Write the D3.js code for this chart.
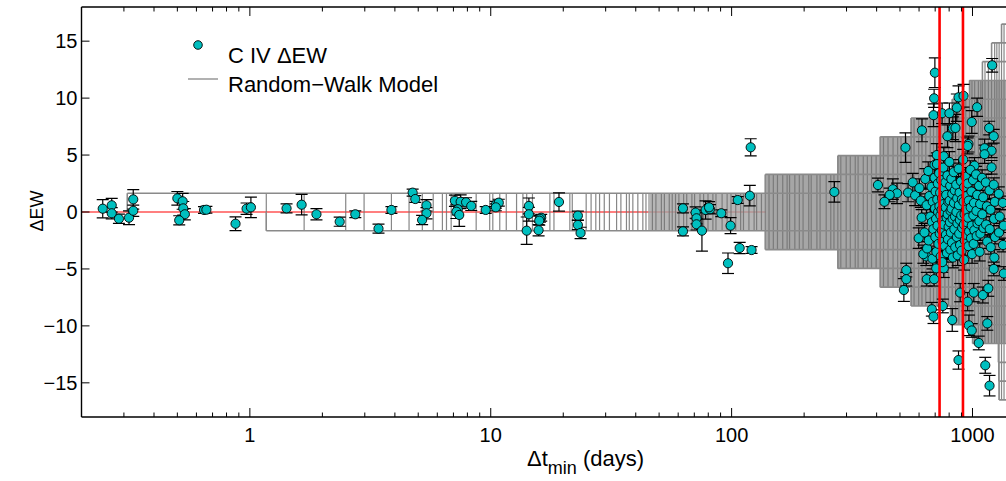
<!DOCTYPE html>
<html>
<head>
<meta charset="utf-8">
<script src="https://cdn.jsdelivr.net/npm/d3@7"></script>
<style>
body{margin:0;background:#fff}
svg{display:block;font-family:"Liberation Sans",Arial,sans-serif}
</style>
</head>
<body>
<svg id="chart" width="1006" height="481"></svg>
<script>
/*
 C IV delta-EW vs minimum rest-frame time lag, with random-walk envelope
 */
var xTicks=[1,10,100,1000];
var yTicks=[-15,-10,-5,0,5,10,15];
var markLines=[730,913];

// random-walk model: step levels and when each level first appears (top / bottom side)
var rwLevels=[1.65,3.3,4.95,6.6,8.25,9.9,11.55,13.2,14.85,16.5];
var rwStartTop=[0.31,138,276,414,556,824,972,1100,1200,1320];
var rwStartBot=[1.17,138,276,414,556,810,1000,1280,1285,1290];
var rwDenseFrom=45;
var rwDenseLevels=7;
var rwJumps=[0.31,1.17,1.68,2.5,2.98,3.87,4.58,5.2,5.77,6.3,6.55,6.85,8.7,9.9,10.2,10.9,11.6,12.8,13.6,14.1,
    14.9,17.6,18.3,21.3,21.8,24.9,26.1,27.3,28.3,29.6,31.1,33.3,34.7,36.6,37.6,38.9,40.8,42.8,44.1,46.9,
    48.5,51.1,52.6,55.1,56.7,58.5,60.4,63.2,65.1,68.4,70.2,73.9,76.5,79.8,83.6,86.1,91.3,95.8,99.4,104,
    109,112,118,124,127,133,138,143,149,155,163,170,174,183,191,198,209,214,226,233,247,258,266,276,
    284,299,311,326,335,352,366,381,398,414,427,446,468,489,505,531,556,572,598,617,640,668,689,712,
    739,768,795,824,851,878,907,938,972,995,1021,1058,1083,1100,1127,1164,1200,1236,1262,1290,1320,1352,1390];

// [dt days, dEW, error]
var shortPts=[[0.245,0.29,0.8],[0.267,0.59,0.6],[0.267,-0.11,0.5],[0.286,-0.59,0.4],[0.315,-0.5,0.6],
    [0.328,1.11,0.85],[0.328,0.11,0.5],[0.5,1.2,0.6],[0.526,0.94,0.7],[0.529,0.32,0.6],[0.537,-0.2,0.5],
    [0.509,-0.73,0.4],[0.645,0.18,0.3],[0.66,0.2,0.3],[0.872,-1.03,0.6],[0.969,0.29,0.5],[1.01,0.41,0.9],
    [1.42,0.32,0.4],[1.64,0.64,0.9],[1.89,-0.2,0.5],[2.36,-0.85,0.4],[2.74,-0.2,0.3],[3.42,-1.46,0.4],
    [3.87,0.18,0.3],[4.74,1.7,0.3],[4.86,1.14,0.3],[5.41,0.59,0.5],[5.41,-0.11,0.5],[5.19,-0.7,0.4],
    [7.1,0.99,0.5],[7.5,0.9,0.6],[7.9,0.85,0.4],[7.3,0.24,0.5],[7.2,0.03,0.6],[7.4,-0.26,1.0],
    [8.3,0.53,0.4],[9.53,0.18,0.3],[10.5,0.64,0.3],[10.8,0.82,0.3],[10.5,0.41,0.3]];
var midPts=[[14.4,0.53,0.7],[14.4,-0.2,0.6],[14.1,-1.64,1.2],[16.2,-0.5,0.3],[16.0,-0.6,0.3],
    [15.9,-0.76,0.4],[15.8,-1.6,0.5],[19.2,0.88,0.8],[23.0,-0.32,0.4],[23.0,-1.14,0.4],[23.6,-1.84,0.5],
    [62.8,0.32,0.4],[62.8,-1.7,0.4],[70.9,-0.05,0.5],[71.5,-0.55,0.5],[71.5,-1.08,0.5],[75.3,-1.64,1.8],
    [78,0.18,0.8],[81.3,0.24,0.4],[80.6,0.41,0.5],[90.6,-0.11,0.3],[99,-1.2,0.7],[106,1.05,0.3],
    [119,1.43,0.9],[108,-3.16,0.5],[121,-3.34,0.3],[96.6,-4.5,0.9],[120,5.68,0.75],[267,1.76,0.9],
    [405,2.37,0.6]];
var longPts=[[527,5.65,1.3],[617,7.17,1.0],[698,12.23,1.3],[693,9.98,0.8],[689,8.5,1.0],[787,6.65,1.0],
    [829,7.35,1.0],[850,7.38,1.2],[861,9.16,1.2],[875,10.07,1.0],[918,10.2,1.0],[1045,9.2,0.8],
    [993,7.9,1.0],[1173,7.37,0.6],[1225,6.65,0.6],[1207,12.88,0.6],[962,5.97,0.7],[955,5.8,0.7],
    [1122,5.6,0.8],[1200,5.38,0.6],[1122,5.07,0.8],[1019,4.07,0.7],[1200,3.92,0.6],[748,8.67,0.9],
    [802,8.67,0.9],[711,5.0,1.0],[760,4.9,0.8],[695,4.13,0.8],[565,2.6,0.8],[467,2.0,0.9],[486,1.64,0.9],
    [453,1.5,0.6],[431,0.9,0.6],[540,1.7,0.8],[578,1.46,0.9],
    [531,-5.1,0.6],[531,-5.9,0.6],[519,-6.85,1.0],[646,-5.9,0.6],[693,-5.9,0.6],[678,-8.54,0.6],
    [689,-9.19,0.6],[753,-8.25,0.6],[824,-9.48,1.0],[875,-13.0,0.8],[889,-7.08,0.8],[966,-9.95,0.9],
    [993,-10.4,0.6],[1062,-11.5,0.6],[1130,-13.46,0.7],[1177,-15.25,0.9],[1152,-9.78,0.6],[955,-7.87,0.8],
    [1012,-7.08,0.8],[1104,-7.29,0.7],[1163,-6.7,0.7],[707,-4.95,0.8],[760,-4.95,0.8],[643,-3.9,0.8],
    [1349,-5.4,0.6],[1225,-5.0,0.6]];
var clusterPts=[[602,2.1,0.8],[615,-0.5,0.7],[598,-2.3,0.9],[625,-3.7,0.8],[610,1.0,0.6],
    [637,2.9,0.9],[645,0.6,0.7],[632,-1.8,0.8],[648,-3.2,0.6],
    [655,3.6,0.8],[662,1.4,0.7],[668,-0.4,0.6],[658,-2.5,0.9],
    [676,2.2,0.7],[684,0.9,0.6],[679,-0.9,0.8],[688,-1.5,0.7],[682,-4.1,0.9],
    [696,3.0,0.8],[703,1.8,0.7],[699,0.3,0.6],[706,-0.6,0.7],[701,-2.2,0.8],[708,-3.5,0.9],
    [712,4.2,1.0],[718,2.5,0.7],[714,1.1,0.6],[720,0.0,0.7],[716,-1.2,0.8],[722,-2.8,0.7],
    [727,3.4,0.8],[734,1.7,0.7],[729,0.5,0.6],[736,-0.3,0.7],[731,-1.9,0.8],[738,-3.9,0.9],
    [742,2.8,0.7],[748,1.2,0.6],[744,0.2,0.7],[750,-0.8,0.6],[746,-1.6,0.7],[752,-2.6,0.8],[749,-4.4,0.9],
    [757,3.9,0.8],[763,2.1,0.7],[759,0.7,0.6],[766,-0.1,0.7],[761,-1.1,0.6],[768,-3.0,0.8],
    [772,2.6,0.7],[778,1.5,0.6],[774,0.4,0.7],[781,-0.5,0.6],[776,-2.0,0.7],[783,-3.6,0.8],
    [787,3.2,0.8],[794,0.9,0.7],[789,-0.2,0.6],[796,-1.3,0.7],[791,-2.4,0.8],
    [802,4.4,0.9],[808,2.3,0.7],[804,1.0,0.6],[811,0.1,0.7],[806,-0.9,0.6],[813,-1.8,0.7],[809,-3.3,0.8],
    [817,2.9,0.7],[824,1.6,0.6],[819,0.3,0.7],[827,-0.6,0.6],[822,-2.7,0.8],[829,-4.0,0.9],
    [836,3.5,0.8],[844,1.9,0.7],[838,0.8,0.6],[846,-0.4,0.7],[841,-1.5,0.6],[848,-3.1,0.8],
    [856,2.4,0.7],[864,1.2,0.6],[858,0.0,0.7],[866,-1.0,0.6],[861,-2.2,0.7],[868,-3.8,0.9],
    [876,3.8,0.8],[884,1.7,0.7],[878,0.6,0.6],[886,-0.7,0.7],[881,-1.9,0.6],[888,-2.9,0.8],
    [896,2.7,0.7],[904,1.1,0.6],[898,-0.3,0.7],[906,-1.4,0.6],[901,-3.4,0.8],
    [915,4.6,0.9],[924,2.2,0.7],[918,0.9,0.6],[927,-0.2,0.7],[921,-1.1,0.6],[929,-2.5,0.7],[923,-4.2,0.9],
    [936,3.1,0.8],[944,1.4,0.7],[939,0.2,0.6],[947,-0.9,0.7],[941,-2.0,0.6],
    [956,2.5,0.7],[965,1.0,0.6],[959,-0.5,0.7],[968,-1.7,0.6],[962,-3.0,0.8],
    [980,3.7,0.8],[990,1.8,0.7],[983,0.4,0.6],[993,-1.2,0.7],[986,-2.3,0.6],[996,-3.7,0.8],
    [1005,2.8,0.7],[1015,0.8,0.6],[1008,-0.3,0.7],[1018,-1.6,0.6],[1011,-2.8,0.8],
    [1035,3.3,0.7],[1046,1.5,0.6],[1038,0.1,0.7],[1049,-1.0,0.6],[1041,-2.1,0.7],
    [1065,2.3,0.7],[1076,0.7,0.6],[1068,-0.8,0.7],[1079,-1.9,0.6],[1071,-3.5,0.8],
    [1096,3.0,0.7],[1108,1.3,0.6],[1099,-0.2,0.7],[1111,-1.4,0.6],
    [1136,2.6,0.7],[1148,0.5,0.6],[1139,-1.1,0.7],[1151,-2.6,0.6],
    [1176,1.9,0.7],[1188,0.2,0.6],[1179,-1.5,0.7],[1191,-3.1,0.6],
    [1226,2.4,0.6],[1238,0.9,0.6],[1229,-0.6,0.6],[1241,-2.2,0.6],[1232,-4.0,0.7],
    [1286,1.6,0.6],[1298,-0.4,0.6],[1289,-1.8,0.6],
    [1336,0.8,0.6],[1348,-1.2,0.6],[1339,-2.9,0.6]];

var space={left:81.5,right:1045,top:7,bottom:417};
var svg=d3.select("#chart");
var x=d3.scaleLog().domain([0.2,2000]).range([space.left,space.right]);
var y=d3.scaleLinear().domain([-18,18]).range([space.bottom,space.top]);

svg.append("defs").append("clipPath").attr("id","plotClip")
    .append("rect").attr("x",space.left).attr("y",space.top)
    .attr("width",space.right-space.left).attr("height",space.bottom-space.top);

var plot=svg.append("g").attr("clip-path","url(#plotClip)");

function levelAt(starts,t,maxIdx){
    var L=0;
    starts.forEach(function(s,i){ if(t>=s&&(maxIdx===undefined||i<maxIdx)) L=rwLevels[i]; });
    return L;
}

// red zero line (under the model)
plot.append("line")
    .attr("x1",space.left).attr("x2",space.right)
    .attr("y1",y(0)).attr("y2",y(0))
    .attr("stroke","#ff0000").attr("stroke-width",1.2);

// dense part of the random-walk envelope
var changeTimes=[rwDenseFrom].concat(rwStartTop,rwStartBot).filter(function(t){return t>=rwDenseFrom;});
changeTimes.push(2000);
changeTimes=Array.from(new Set(changeTimes)).sort(d3.ascending);
var envArea=d3.area().curve(d3.curveStepAfter)
    .x(function(d){return x(d)})
    .y0(function(d){return y(-levelAt(rwStartBot,d,rwDenseLevels))})
    .y1(function(d){return y(levelAt(rwStartTop,d,rwDenseLevels))});
var firstBand=changeTimes.filter(function(t){return t<=rwStartTop[1]});
var laterBands=changeTimes.filter(function(t){return t>=rwStartTop[1]});
plot.append("path").datum(firstBand)
    .attr("d",envArea).attr("fill","#a4a4a4").attr("opacity",0.8);
plot.append("path").datum(laterBands)
    .attr("d",envArea).attr("fill","#a6a6a6");

// model jumps
plot.append("g").selectAll("line").data(rwJumps).enter().append("line")
    .attr("x1",function(d){return x(d)}).attr("x2",function(d){return x(d)})
    .attr("y1",function(d){return y(levelAt(rwStartTop,d))})
    .attr("y2",function(d){return y(-levelAt(rwStartBot,d))})
    .attr("stroke","#737373").attr("stroke-width",1.2).attr("opacity",0.85);

// model level edges
var edges=[];
rwLevels.forEach(function(L,i){
    edges.push({t:rwStartTop[i],v:L});
    edges.push({t:rwStartBot[i],v:-L});
});
plot.append("g").selectAll("line").data(edges).enter().append("line")
    .attr("x1",function(d){return x(d.t)}).attr("x2",space.right)
    .attr("y1",function(d){return y(d.v)}).attr("y2",function(d){return y(d.v)})
    .attr("stroke","#8a8a8a").attr("stroke-width",1.6);
plot.append("g").selectAll("line").data(edges).enter().append("line")
    .attr("x1",function(d){return x(d.t)}).attr("x2",function(d){return x(d.t)})
    .attr("y1",function(d){return y(d.v)})
    .attr("y2",function(d){return y(d.v-(d.v>0?1.65:-1.65))})
    .attr("stroke","#8a8a8a").attr("stroke-width",1.4);

// data points with error bars
var allPts=shortPts.concat(midPts,longPts,clusterPts);
var capW=6;
var eb=plot.append("g").attr("stroke","#000").attr("stroke-width",1.2);
allPts.forEach(function(d){
    var cx=x(d[0]);
    eb.append("line").attr("x1",cx).attr("x2",cx).attr("y1",y(d[1]+d[2])).attr("y2",y(d[1]-d[2]));
    eb.append("line").attr("x1",cx-capW).attr("x2",cx+capW).attr("y1",y(d[1]+d[2])).attr("y2",y(d[1]+d[2]));
    eb.append("line").attr("x1",cx-capW).attr("x2",cx+capW).attr("y1",y(d[1]-d[2])).attr("y2",y(d[1]-d[2]));
});
plot.append("g").selectAll("circle").data(allPts).enter().append("circle")
    .attr("cx",function(d){return x(d[0])}).attr("cy",function(d){return y(d[1])})
    .attr("r",4.6).attr("fill","#00bfbf").attr("stroke","#000").attr("stroke-width",0.9);

// red marker lines
plot.append("g").selectAll("line").data(markLines).enter().append("line")
    .attr("x1",function(d){return x(d)}).attr("x2",function(d){return x(d)})
    .attr("y1",space.top).attr("y2",space.bottom)
    .attr("stroke","#ff0000").attr("stroke-width",2.6);

// axes
var minorX=[];
[0.1,1,10,100,1000].forEach(function(dec){
    for(var k=2;k<=9;k++){ var v=dec*k; if(v>=0.2&&v<=2000&&xTicks.indexOf(v)<0) minorX.push(v); }
});
var ax=svg.append("g").attr("stroke","#000");
ax.append("line").attr("x1",space.left).attr("x2",1006).attr("y1",space.bottom).attr("y2",space.bottom).attr("stroke-width",1.4);
ax.append("line").attr("x1",space.left).attr("x2",1006).attr("y1",space.top).attr("y2",space.top).attr("stroke-width",1.4);
ax.append("line").attr("x1",space.left).attr("x2",space.left).attr("y1",space.top).attr("y2",space.bottom).attr("stroke-width",1.4);
[[xTicks,9],[minorX,4.5]].forEach(function(set){
    set[0].forEach(function(v){
        var px=x(v);
        ax.append("line").attr("x1",px).attr("x2",px).attr("y1",space.bottom).attr("y2",space.bottom-set[1]).attr("stroke-width",1);
        ax.append("line").attr("x1",px).attr("x2",px).attr("y1",space.top).attr("y2",space.top+set[1]).attr("stroke-width",1);
    });
});
yTicks.forEach(function(v){
    ax.append("line").attr("x1",space.left).attr("x2",space.left+8).attr("y1",y(v)).attr("y2",y(v)).attr("stroke-width",1);
});

var fmtY=function(v){return v<0?"\u2212"+Math.abs(v):String(v)};
svg.append("g").selectAll("text").data(yTicks).enter().append("text")
    .attr("x",space.left-4).attr("y",function(d){return y(d)+7.2})
    .attr("text-anchor","end").attr("font-size",20).text(fmtY);
svg.append("g").selectAll("text").data(xTicks).enter().append("text")
    .attr("x",function(d){return x(d)}).attr("y",441.5)
    .attr("text-anchor","middle").attr("font-size",20).text(function(d){return d});

// axis titles
svg.append("text").attr("transform","translate(43,211) rotate(-90)")
    .attr("text-anchor","middle").attr("font-size",18).text("\u0394EW");
var xt=svg.append("text").attr("x",527).attr("y",466).attr("font-size",22);
xt.append("tspan").text("\u0394t");
xt.append("tspan").attr("dy",8).attr("font-size",18).text("min");
xt.append("tspan").attr("dy",-8).text(" (days)");

// legend
var lg=svg.append("g");
lg.append("circle").attr("cx",198).attr("cy",45).attr("r",4.3)
    .attr("fill","#00bfbf").attr("stroke","#000").attr("stroke-width",0.9);
lg.append("line").attr("x1",188).attr("x2",218).attr("y1",79).attr("y2",79)
    .attr("stroke","#7c7c7c").attr("stroke-width",1.2);
lg.append("text").attr("x",228).attr("y",63).attr("font-size",22).text("C IV \u0394EW");
lg.append("text").attr("x",228).attr("y",92).attr("font-size",22).text("Random\u2212Walk Model");
</script>
</body>
</html>
